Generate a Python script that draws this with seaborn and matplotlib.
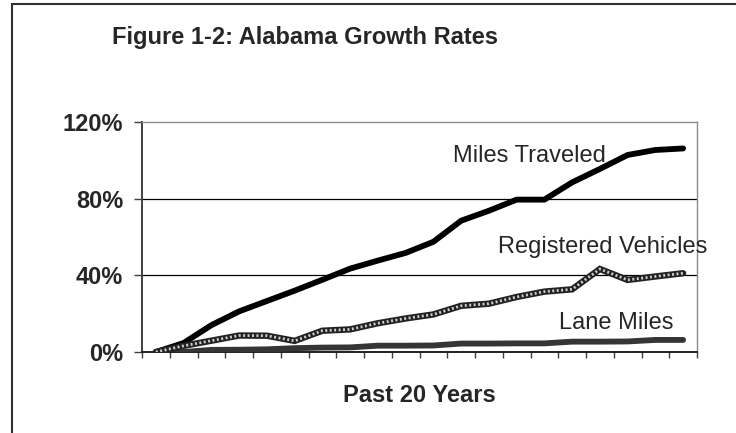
import numpy as np
import pandas as pd
import matplotlib
matplotlib.use("Agg")
import matplotlib.pyplot as plt
from matplotlib.patches import Rectangle
import seaborn as sns

# Cumulative growth (%) over the past 20 years
years = list(range(20))
miles_traveled = [0, 4.7, 14.0, 21.2, 26.6, 32.0, 37.7, 43.5, 47.7, 51.7,
                  57.5, 68.5, 73.7, 79.5, 79.5, 88.5, 95.5, 102.8, 105.4, 106.2]
registered_vehicles = [0, 3.2, 5.9, 8.6, 8.5, 5.8, 11.1, 11.8, 15.0, 17.5,
                       19.6, 24.1, 25.2, 28.7, 31.5, 32.7, 43.3, 37.6, 39.4, 41.1]
lane_miles = [0, 0.0, 1.1, 1.2, 1.4, 2.0, 2.3, 2.4, 3.3, 3.3,
              3.4, 4.4, 4.4, 4.5, 4.5, 5.4, 5.4, 5.5, 6.3, 6.3]

y_ticks = [0, 40, 80, 120]
y_tick_labels = ["0%", "40%", "80%", "120%"]
title = "Figure 1-2: Alabama Growth Rates"
x_label = "Past 20 Years"

sns.set_theme(style="white")
plt.rcParams["font.family"] = ["Liberation Sans", "DejaVu Sans"]

W, H = 736, 433
fig = plt.figure(figsize=(W / 100, H / 100), dpi=100)
fig.patch.set_facecolor("white")

# plot area in pixel terms
left, right, top, bottom = 142, 697, 122, 352
ax = fig.add_axes([left / W, (H - bottom) / H, (right - left) / W, (bottom - top) / H])
ax.set_facecolor("white")

df = pd.DataFrame({"year": years, "miles": miles_traveled,
                   "vehicles": registered_vehicles, "lane": lane_miles})

# Miles traveled: solid black
sns.lineplot(data=df, x="year", y="miles", ax=ax, color="black", lw=4.2,
             zorder=3, solid_joinstyle="miter")
# Lane miles: dark gray
sns.lineplot(data=df, x="year", y="lane", ax=ax, color="#353535", lw=4.2,
             zorder=3.5, solid_joinstyle="miter")
# Registered vehicles: dark band with a light checker texture
sns.lineplot(data=df, x="year", y="vehicles", ax=ax, color="#222222", lw=4.6,
             zorder=4, solid_joinstyle="miter")
sns.lineplot(data=df, x="year", y="vehicles", ax=ax, color="#cfcfcf", lw=2.0,
             zorder=4.5, dashes=False, linestyle=(0, (0.7, 0.9)))

ax.set_xlim(-0.5, 19.5)
ax.set_ylim(0, 120)

ax.set_yticks(y_ticks)
ax.set_yticklabels(y_tick_labels, fontsize=17, fontweight="bold")
ax.set_xticks(np.arange(-0.5, 20.0, 1.0))
ax.set_xticklabels([])

ax.tick_params(axis="y", which="major", direction="out", length=6, width=1,
               color="#404040", pad=7.5, left=True)
ax.tick_params(axis="x", which="major", direction="out", length=4, width=1,
               color="#404040", bottom=True)

# horizontal gridlines
for yv in y_ticks[1:-1]:
    ax.axhline(yv, color="black", lw=0.9, zorder=1)

for side in ["top", "right"]:
    ax.spines[side].set_color("#8a8a8a")
    ax.spines[side].set_linewidth(1.0)
ax.spines["left"].set_color("#404040")
ax.spines["left"].set_linewidth(1.4)
ax.spines["bottom"].set_color("#202020")
ax.spines["bottom"].set_linewidth(1.4)

ax.set_ylabel("")
ax.set_xlabel(x_label, fontsize=17, fontweight="bold")
ax.xaxis.set_label_coords(0.5, (bottom - 401.7) / (bottom - top))
ax.xaxis.label.set_va("baseline")

# series labels
ax.text(10.71, 99.0, "Miles Traveled", fontsize=17, ha="left", va="baseline", zorder=6)
ax.text(12.33, 51.5, "Registered Vehicles", fontsize=17, ha="left", va="baseline", zorder=6)
ax.text(14.53, 12.0, "Lane Miles", fontsize=17, ha="left", va="baseline", zorder=6)

fig.text(112 / W, 1 - 44.3 / H, title, fontsize=17, fontweight="bold",
         ha="left", va="baseline")

# outer chart frame
fig.patches.append(Rectangle((12 / W, -0.1), 1.2, 1 - 4 / H + 0.1,
                             transform=fig.transFigure, fill=False,
                             edgecolor="#303030", lw=1.5))

fig.savefig("out.png", dpi=100)
